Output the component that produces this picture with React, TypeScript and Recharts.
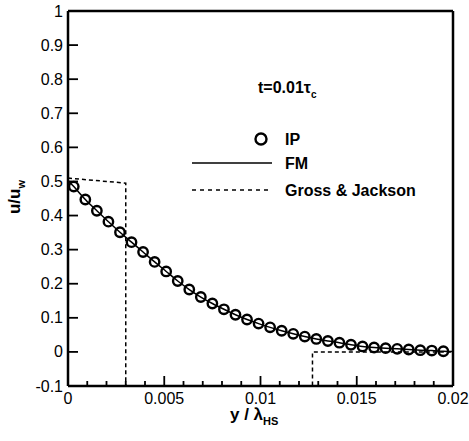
import { LineChart, Line, XAxis, YAxis, ReferenceLine } from 'recharts'

// IP circles (y / lambda_HS, u/u_w)
const ipX = [
  0.0003, 0.0009, 0.0015, 0.0021, 0.0027, 0.0033, 0.0039, 0.0045, 0.0051, 0.0057, 0.0063,
  0.0069, 0.0075, 0.0081, 0.0087, 0.0093, 0.0099, 0.0105, 0.0111, 0.0117, 0.0123, 0.0129,
  0.0135, 0.0141, 0.0147, 0.0153, 0.0159, 0.0165, 0.0171, 0.0177, 0.0183, 0.0189, 0.0195,
]
const ipU = [
  0.485, 0.447, 0.414, 0.382, 0.351, 0.322, 0.293, 0.264, 0.236, 0.208, 0.183,
  0.161, 0.142, 0.125, 0.109, 0.095, 0.083, 0.072, 0.062, 0.053, 0.045, 0.038,
  0.032, 0.027, 0.021, 0.016, 0.013, 0.011, 0.009, 0.007, 0.005, 0.004, 0.002,
]

// FM solid line
const fmX = [0, ...ipX, 0.02]
const fmU = [0.503, ...ipU, 0.001]

// Gross & Jackson dashed
const gjX = [0, 0.003, 0.003, 0.0127, 0.0127, 0.02]
const gjU = [0.51, 0.495, -0.1, -0.1, 0, 0]

const xTicks = [
  0, 0.001, 0.002, 0.003, 0.004, 0.005, 0.006, 0.007, 0.008, 0.009, 0.01,
  0.011, 0.012, 0.013, 0.014, 0.015, 0.016, 0.017, 0.018, 0.019, 0.02,
]
const xMajor = [0, 0.005, 0.01, 0.015, 0.02]
const yTicks = [-0.1, 0, 0.1, 0.2, 0.3, 0.4, 0.5, 0.6, 0.7, 0.8, 0.9, 1]

const rows = (xs: number[], us: number[]) => xs.map((x, i) => ({ x, u: us[i] }))
const ipData = rows(ipX, ipU)
const fmData = rows(fmX, fmU)
const gjData = rows(gjX, gjU)

const font = "'Liberation Sans', Arial, Helvetica, sans-serif"

function XTick({ x, y, payload }: any) {
  const major = xMajor.includes(payload.value)
  return (
    <g>
      <line x1={x} x2={x} y1={y} y2={y - (major ? 10 : 5)} stroke="#000" strokeWidth={1.8} />
      {major && (
        <text x={x} y={y + 18} textAnchor="middle" fontSize={16} fontFamily={font} fill="#000">
          {String(payload.value)}
        </text>
      )}
    </g>
  )
}

function YTick({ x, y, payload }: any) {
  return (
    <g>
      <line x1={x} x2={x + 10} y1={y} y2={y} stroke="#000" strokeWidth={1.8} />
      <text x={x - 5} y={y + 5.5} textAnchor="end" fontSize={16} fontFamily={font} fill="#000">
        {String(payload.value)}
      </text>
    </g>
  )
}

export default function App() {
  return (
    <div style={{ position: 'absolute', left: 0, top: 0, width: 469, height: 441, background: '#fff' }}>
      <LineChart width={469} height={441} margin={{ top: 11, right: 16, left: 0, bottom: 0 }}>
        <XAxis
          dataKey="x"
          type="number"
          domain={[0, 0.02]}
          ticks={xTicks}
          interval={0}
          height={55}
          tickSize={0}
          tickMargin={0}
          tickLine={false}
          tick={<XTick />}
          axisLine={{ stroke: '#000', strokeWidth: 2.5 }}
        />
        <YAxis
          type="number"
          domain={[-0.1, 1]}
          ticks={yTicks}
          interval={0}
          width={68}
          tickSize={0}
          tickMargin={0}
          tickLine={false}
          tick={<YTick />}
          axisLine={{ stroke: '#000', strokeWidth: 2.5 }}
        />
        <ReferenceLine y={1} stroke="#000" strokeWidth={2.5} />
        <ReferenceLine x={0.02} stroke="#000" strokeWidth={2.5} />
        <Line
          data={gjData}
          dataKey="u"
          type="linear"
          stroke="#000"
          strokeWidth={1.5}
          strokeDasharray="4 3"
          dot={false}
          activeDot={false}
          isAnimationActive={false}
        />
        <Line
          data={fmData}
          dataKey="u"
          type="monotone"
          stroke="#000"
          strokeWidth={1.5}
          dot={false}
          activeDot={false}
          isAnimationActive={false}
        />
        <Line
          data={ipData}
          dataKey="u"
          stroke="none"
          activeDot={false}
          isAnimationActive={false}
          dot={(p: any) => (
            <circle key={`ip-${p.index}`} cx={p.cx} cy={p.cy} r={4.7} fill="none" stroke="#000" strokeWidth={2.4} />
          )}
        />
      </LineChart>
      <svg
        width={469}
        height={441}
        style={{ position: 'absolute', left: 0, top: 0, pointerEvents: 'none' }}
        fontFamily={font}
        fontWeight="bold"
      >
        <text x={258} y={93} fontSize={16}>
          t=0.01τ<tspan fontSize={10} dy={5}>c</tspan>
        </text>
        <circle cx={261} cy={139} r={5.5} fill="none" stroke="#000" strokeWidth={2.4} />
        <text x={285} y={145} fontSize={16}>IP</text>
        <line x1={192} x2={272} y1={163} y2={163} stroke="#000" strokeWidth={1.5} />
        <text x={285} y={169} fontSize={16}>FM</text>
        <line x1={192} x2={272} y1={190} y2={190} stroke="#000" strokeWidth={1.5} strokeDasharray="4 4" />
        <text x={285} y={196} fontSize={16}>Gross &amp; Jackson</text>
        <text x={230} y={420} fontSize={17}>
          y / λ<tspan fontSize={11} dy={5}>HS</tspan>
        </text>
        <text transform="rotate(-90)" x={-197} y={20} fontSize={17} textAnchor="middle">
          u/u<tspan fontSize={11} dy={5}>w</tspan>
        </text>
      </svg>
    </div>
  )
}
